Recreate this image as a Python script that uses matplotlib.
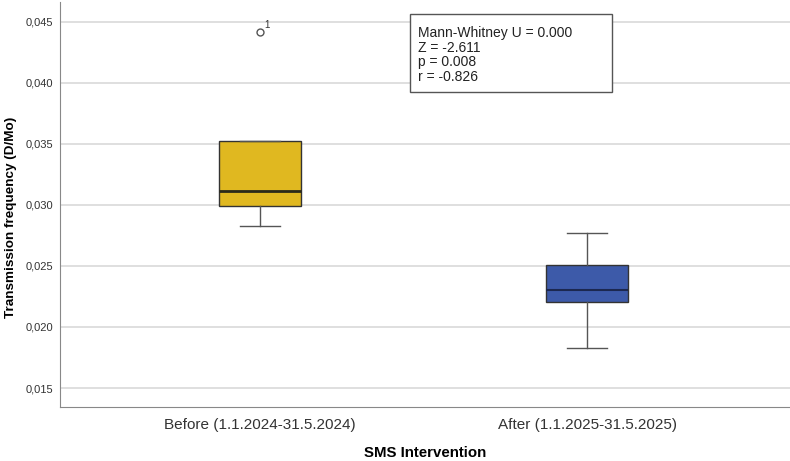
import matplotlib
matplotlib.use('Agg')
import matplotlib.pyplot as plt
from matplotlib.patches import Rectangle

plt.rcParams['font.family'] = ['Liberation Sans', 'DejaVu Sans']

# Box statistics
groups = ['Before (1.1.2024-31.5.2024)', 'After (1.1.2025-31.5.2025)']
whislo = [0.02828, 0.01828]
q1 = [0.02990, 0.02207]
med = [0.03115, 0.02303]
q3 = [0.03525, 0.02508]
whishi = [0.03525, 0.02770]
outliers = [[0.04418], []]
outlier_ids = [['1'], []]
colors = ['#E0B820', '#3D5AA9']

stats_text = 'Mann-Whitney U = 0.000\nZ = -2.611\np = 0.008\nr = -0.826'


def main():
    W, H = 790, 461
    fig = plt.figure(figsize=(7.9, 4.61), dpi=100)
    ax = fig.add_axes([0.076, 0.117, 0.924, 0.879])

    stats = []
    for i, g in enumerate(groups):
        stats.append(dict(label=g, whislo=whislo[i], q1=q1[i], med=med[i],
                          q3=q3[i], whishi=whishi[i], fliers=outliers[i]))

    bp = ax.bxp(stats, positions=[1, 2], widths=0.25, patch_artist=True,
                showfliers=True,
                boxprops=dict(edgecolor='#333333', linewidth=1.0),
                medianprops=dict(color='#2a2a1a', linewidth=2.0),
                whiskerprops=dict(color='#555555', linewidth=1.0),
                capprops=dict(color='#555555', linewidth=1.0),
                capwidths=0.122,
                flierprops=dict(marker='o', markersize=5, markerfacecolor='none',
                                markeredgecolor='#555555', markeredgewidth=1.0))
    for patch, c in zip(bp['boxes'], colors):
        patch.set_facecolor(c)
    bp['medians'][1].set_color('#1c2850')
    bp['medians'][1].set_linewidth(1.5)

    # outlier case numbers
    for i, (vals, ids) in enumerate(zip(outliers, outlier_ids)):
        for v, label in zip(vals, ids):
            ax.annotate(label, xy=(i + 1, v), xytext=(3, 3),
                        textcoords='offset points', fontsize=7, color='#333333')

    ax.set_xlim(0.388, 2.62)
    ax.set_ylim(0.01344, 0.04664)
    ax.set_yticks([0.015, 0.020, 0.025, 0.030, 0.035, 0.040, 0.045])
    ax.set_yticklabels(['0,015', '0,020', '0,025', '0,030', '0,035', '0,040', '0,045'])
    ax.tick_params(axis='both', length=0, labelcolor='#333333')
    ax.tick_params(axis='x', labelsize=11, pad=8)
    ax.tick_params(axis='y', labelsize=8, pad=5)
    ax.grid(axis='y', color='#d9d9d9', linewidth=1.2)
    ax.set_axisbelow(True)

    for side in ['top', 'right']:
        ax.spines[side].set_visible(False)
    for side in ['left', 'bottom']:
        ax.spines[side].set_color('#888888')

    ax.set_xlabel('SMS Intervention', fontsize=10.8, fontweight='bold', labelpad=10)
    ax.set_ylabel('Transmission frequency (D/Mo)', fontsize=9.7, fontweight='bold')
    ax.yaxis.set_label_coords(-0.059, 0.467)

    # statistics box
    fig.patches.append(Rectangle((410 / W, 1 - 92 / H), 202 / W, 78 / H,
                                 transform=fig.transFigure, facecolor='white',
                                 edgecolor='#555555', linewidth=1.0, zorder=5))
    fig.text(418 / W, 1 - 26 / H, stats_text, fontsize=10, va='top', ha='left',
             linespacing=1.06, color='#222222', zorder=6)

    fig.savefig('out.png', dpi=100)
    plt.close(fig)


if __name__ == '__main__':
    main()
